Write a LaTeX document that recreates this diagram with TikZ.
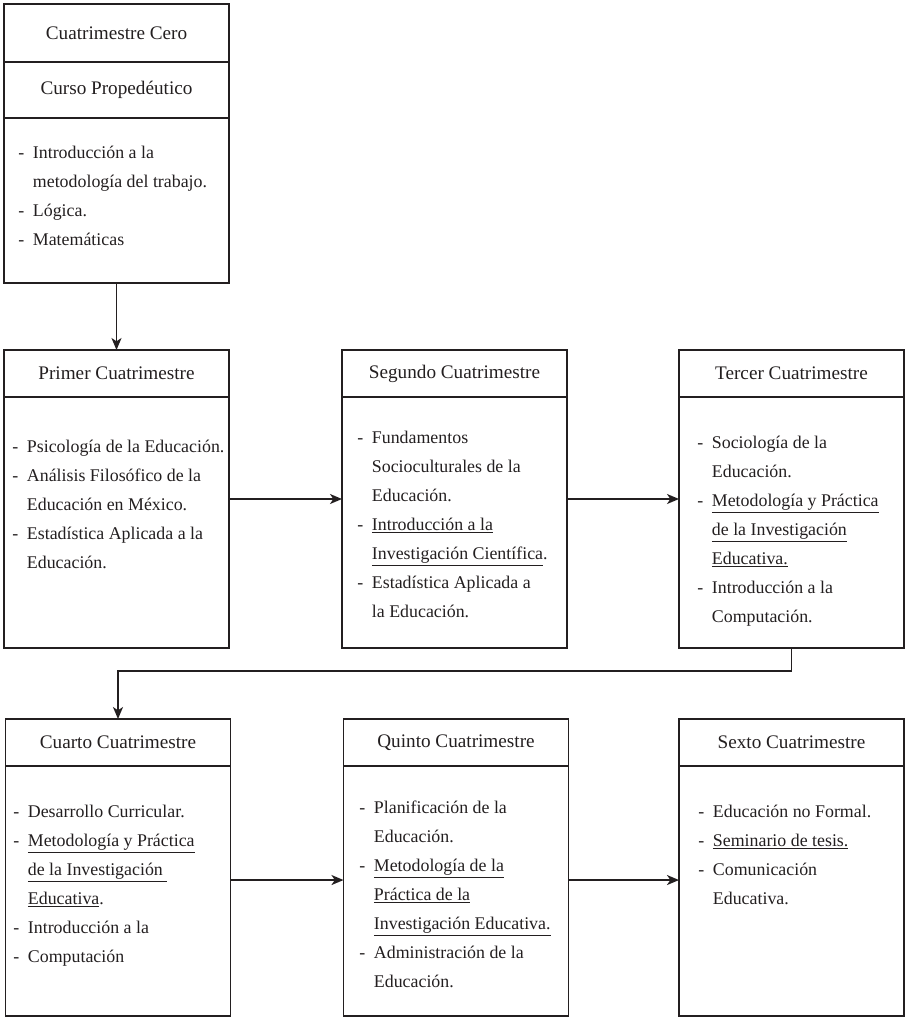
\documentclass[tikz,border=0pt]{standalone}
\usepackage{fontspec}
\setmainfont{Liberation Serif}
\usetikzlibrary{arrows.meta}
\definecolor{ink}{RGB}{35,31,32}
\newcommand{\itm}{\makebox[11pt][l]{-}}
\newcommand{\cnt}{\hspace*{11pt}}

\begin{document}
\begin{tikzpicture}[x=0.75pt,y=0.75pt,yscale=-1,
  box/.style={draw=ink, line width=1.3pt, minimum width=168.75pt, inner sep=0pt, outer sep=0pt},
  hdr/.style={draw=ink, line width=1.3pt, minimum width=168.75pt, minimum height=35.25pt, inner sep=0pt, outer sep=0pt, text=ink, font=\fontsize{14.4pt}{17pt}\selectfont},
  items/.style={anchor=north west, inner sep=0pt, align=left, text=ink, font=\fontsize{13.4pt}{21.8pt}\selectfont},
  arr/.style={draw=ink, line width=1.3pt, -{Stealth[length=9pt,width=7.5pt,inset=2.5pt]}}]
\useasboundingbox (0,0) rectangle (905,1018);

%Box: Cuatrimestre Cero
\node[box, minimum height=209.25pt] (cero) at (116.5,143.5) {};
\node[hdr, minimum height=43.5pt, anchor=north] (cero-h) at (cero.north) {Cuatrimestre Cero};
\node[hdr, minimum height=42pt, anchor=north] (cero-c) at (cero-h.south) {Curso Propedéutico};
\node[items] (cero-l) at (18,137.6) {\strut\itm Introducción a la\\
  \cnt metodología del trabajo.\\
  \itm Lógica.\\
  \itm Matemáticas};

%Box: Primer Cuatrimestre
\node[box, minimum height=223.5pt] (primer) at (116.5,499) {};
\node[hdr, anchor=north] (primer-h) at (primer.north) {Primer Cuatrimestre};
\node[items] (primer-l) at (12,431.6) {\strut\itm Psicología de la Educación.\\
  \itm Análisis Filosófico de la\\
  \cnt Educación en México.\\
  \itm Estadística Aplicada a la\\
  \cnt Educación.};

%Box: Segundo Cuatrimestre
\node[box, minimum height=223.5pt] (segundo) at (454.5,499) {};
\node[hdr, anchor=north] (segundo-h) at (segundo.north) {Segundo Cuatrimestre};
\node[items] (segundo-l) at (357,422.6) {\strut\itm Fundamentos\\
  \cnt Socioculturales de la\\
  \cnt Educación.\\
  \itm \underline{Introducción a la}\\
  \cnt \underline{Investigación Científica}.\\
  \itm Estadística Aplicada a\\
  \cnt la Educación.};

%Box: Tercer Cuatrimestre
\node[box, minimum height=223.5pt] (tercer) at (791.5,499) {};
\node[hdr, anchor=north] (tercer-h) at (tercer.north) {Tercer Cuatrimestre};
\node[items] (tercer-l) at (697,427.6) {\strut\itm Sociología de la\\
  \cnt Educación.\\
  \itm \underline{Metodología y Práctica}\\
  \cnt \underline{de la Investigación}\\
  \cnt \underline{Educativa.}\\
  \itm Introducción a la\\
  \cnt Computación.};

%Box: Cuarto Cuatrimestre
\node[box, minimum height=222.75pt] (cuarto) at (118,867.5) {};
\node[hdr, anchor=north] (cuarto-h) at (cuarto.north) {Cuarto Cuatrimestre};
\node[items] (cuarto-l) at (13,796.6) {\strut\itm Desarrollo Curricular.\\
  \itm \underline{Metodología y Práctica}\\
  \cnt \underline{de la Investigación\ }\\
  \cnt \underline{Educativa}.\\
  \itm Introducción a la\\
  \itm Computación};

%Box: Quinto Cuatrimestre
\node[box, minimum height=222.75pt] (quinto) at (456,867.5) {};
\node[hdr, anchor=north] (quinto-h) at (quinto.north) {Quinto Cuatrimestre};
\node[items] (quinto-l) at (359,792.6) {\strut\itm Planificación de la\\
  \cnt Educación.\\
  \itm \underline{Metodología de la}\\
  \cnt \underline{Práctica de la}\\
  \cnt \underline{Investigación Educativa.}\\
  \itm Administración de la\\
  \cnt Educación.};

%Box: Sexto Cuatrimestre
\node[box, minimum height=222.75pt] (sexto) at (791.5,867.5) {};
\node[hdr, anchor=north] (sexto-h) at (sexto.north) {Sexto Cuatrimestre};
\node[items] (sexto-l) at (698,796.6) {\strut\itm Educación no Formal.\\
  \itm \underline{Seminario de tesis.}\\
  \itm Comunicación\\
  \cnt Educativa.};

%Arrows
\draw[arr] (cero) -- (primer);
\draw[arr] (primer) -- (segundo);
\draw[arr] (segundo) -- (tercer);
\draw[arr] (tercer.south) -- ++(0,23) -| (cuarto.north);
\draw[arr] ([yshift=9.4pt]cuarto.east) -- ([yshift=9.4pt]quinto.west);
\draw[arr] ([yshift=9.4pt]quinto.east) -- ([yshift=9.4pt]sexto.west);

\end{tikzpicture}
\end{document}
